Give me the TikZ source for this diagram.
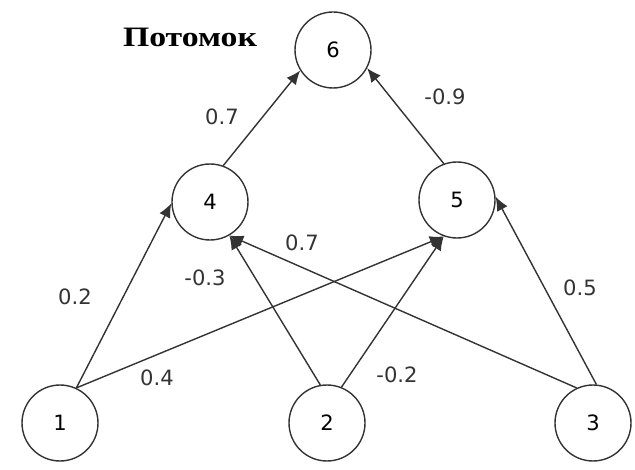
\documentclass[tikz,border=0pt]{standalone}
\usepackage{fontspec}
\setmainfont{DejaVu Sans}
\newfontfamily\titlefont{Liberation Serif}
\usetikzlibrary{arrows.meta}
\tikzset{neuron/.style={circle,draw=black!80,line width=0.8pt,minimum size=1.52cm,inner sep=0pt,font=\fontsize{12}{14}\selectfont},
         weight/.style={font=\fontsize{12}{14}\selectfont,text=black!80,inner sep=1pt}}

\begin{document}
\begin{tikzpicture}
                  \useasboundingbox (0,0) rectangle (12.7,9.38);
                  \node[neuron] (N1) at (1.2,0.92) {1};
                  \node[neuron] (N2) at (6.54,0.92) {2};
                  \node[neuron] (N3) at (11.86,0.92) {3};
                  \node[neuron] (N4) at (4.2,5.34) {4};
                  \node[neuron] (N5) at (9.14,5.38) {5};
                  \node[neuron] (N6) at (6.66,8.38) {6};
                  \node[font=\titlefont\bfseries\fontsize{16}{18}\selectfont] (child) at (3.8,8.64) {\scalebox{1.2}[1]{Потомок}};
                  \path[-{Latex[length=2.8mm,width=2.4mm]},black!80,line width=0.8pt]
                  (N1.65) edge (N4.182) (N1.65) edge (N5.-110)
                  (N2.100) edge (N4.-60) (N2.68) edge (N5.-110)
                  (N3.115) edge (N4.-60) (N3.85) edge (N5.5)
                  (N4.70) edge (N6.212) (N5.110) edge (N6.-28);
                  \node[weight] (w46) at (4.44,7.04) {0.7};
                  \node[weight] (w56) at (8.9,7.44) {-0.9};
                  \node[weight] (w14) at (1.5,3.44) {0.2};
                  \node[weight] (w24) at (4.1,3.82) {-0.3};
                  \node[weight] (w34) at (6.04,4.52) {0.7};
                  \node[weight] (w15) at (3.14,1.82) {0.4};
                  \node[weight] (w25) at (7.94,1.88) {-0.2};
                  \node[weight] (w35) at (11.6,3.62) {0.5};
              \end{tikzpicture}
\end{document}
